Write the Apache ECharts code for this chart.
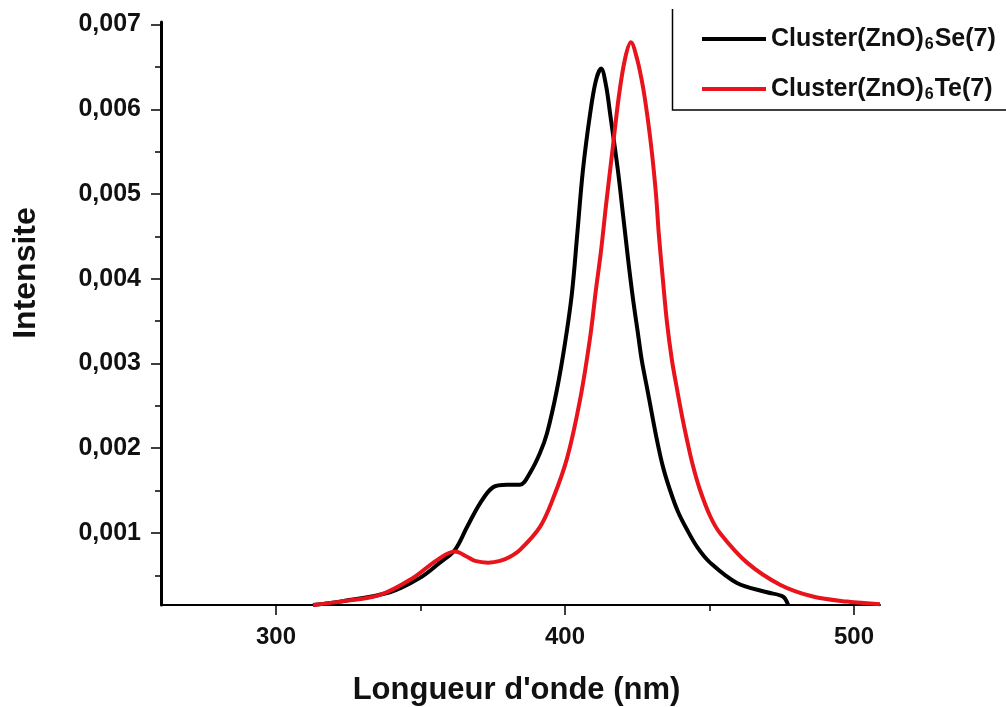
<!DOCTYPE html>
<html>
<head>
<meta charset="utf-8">
<script src="https://cdn.jsdelivr.net/npm/echarts@6/dist/echarts.min.js"></script>
<style>
html,body{margin:0;padding:0;background:#fff;}
#chart{width:1006px;height:707px;}
</style>
</head>
<body>
<div id="chart"></div>
<script>
// ---- Data ----
const seName = 'Cluster(ZnO)6Se(7)';
const teName = 'Cluster(ZnO)6Te(7)';
const seWavelength = [312.8, 322.1, 339.4, 349.8, 356.7, 361.9, 366.1, 370.6, 375.1, 379.9, 384.4, 387.9, 391.3, 393.8, 397.2, 400.0, 402.4, 404.2, 406.2, 408.7, 410.7, 412.5, 414.2, 415.6, 418.3, 420.1, 421.8, 423.5, 425.3, 426.6, 428.4, 430.1, 431.8, 433.9, 436.3, 439.1, 442.2, 446.0, 450.2, 459.5, 469.9, 475.4, 477.2];
const seIntensity  = [0.00015, 0.00019, 0.00030, 0.00047, 0.00065, 0.00080, 0.00107, 0.00135, 0.00154, 0.00157, 0.00157, 0.00171, 0.00194, 0.00218, 0.00269, 0.00324, 0.00383, 0.00451, 0.00528, 0.00595, 0.00634, 0.00648, 0.00628, 0.00595, 0.00528, 0.00475, 0.00424, 0.00377, 0.00334, 0.00303, 0.00271, 0.00240, 0.00210, 0.00178, 0.00151, 0.00125, 0.00104, 0.00082, 0.00065, 0.00041, 0.00030, 0.00025, 0.00015];
const teWavelength = [312.8, 322.1, 336.0, 347.4, 355.7, 361.9, 366.1, 368.9, 373.4, 377.5, 381.0, 384.4, 391.3, 395.8, 400.7, 405.2, 408.7, 410.7, 412.5, 414.2, 416.3, 418.7, 420.8, 422.8, 424.9, 427.0, 428.7, 430.1, 431.5, 432.5, 433.9, 435.3, 437.0, 438.8, 440.5, 442.2, 444.3, 446.7, 450.2, 453.6, 463.0, 474.4, 485.8, 497.6, 509.0];
const teIntensity  = [0.00015, 0.00019, 0.00027, 0.00047, 0.00068, 0.00078, 0.00072, 0.00067, 0.00065, 0.00067, 0.00072, 0.00080, 0.00107, 0.00140, 0.00188, 0.00257, 0.00331, 0.00387, 0.00434, 0.00487, 0.00548, 0.00617, 0.00660, 0.00679, 0.00660, 0.00626, 0.00587, 0.00548, 0.00499, 0.00451, 0.00398, 0.00348, 0.00304, 0.00269, 0.00238, 0.00210, 0.00179, 0.00151, 0.00120, 0.00100, 0.00065, 0.00039, 0.00025, 0.00019, 0.00016];
const xMajorTicks = [300, 400, 500];
const xMinorTicks = [350, 450];
const yMajorTicks = [0.001, 0.002, 0.003, 0.004, 0.005, 0.006, 0.007];
const yMinorTicks = [0.0005, 0.0015, 0.0025, 0.0035, 0.0045, 0.0055, 0.0065];

const xMin = 260.2, xMax = 509, yMin = 0.00015, yMax = 0.00703;

const zip = (a, b) => a.map((v, i) => [v, b[i]]);
const FONT = 'Liberation Sans';

const chart = echarts.init(document.getElementById('chart'), null, {renderer: 'canvas'});

const baseX = {
  type: 'value', min: xMin, max: xMax, position: 'bottom',
  splitLine: {show: false}
};
const baseY = {
  type: 'value', min: yMin, max: yMax, position: 'left',
  splitLine: {show: false}
};

chart.setOption({
  animation: false,
  backgroundColor: '#ffffff',
  grid: {left: 161, right: 126, top: 22, bottom: 102, containLabel: false, outerBoundsMode: 'none'},
  legend: {
    orient: 'vertical',
    left: 697, top: 18,
    itemWidth: 64, itemHeight: 4, itemGap: 20,
    icon: 'rect',
    data: [seName, teName],
    formatter: function (name) {
      return name === seName ? 'Cluster(ZnO){s|6}Se(7)' : 'Cluster(ZnO){s|6}Te(7)';
    },
    textStyle: {
      fontFamily: FONT, fontSize: 25, fontWeight: 'bold', color: '#111', lineHeight: 28,
      rich: {
        s: {fontFamily: FONT, fontSize: 16, fontWeight: 'bold', color: '#111', lineHeight: 28, verticalAlign: 'bottom', padding: [14, 1, 0, 1]}
      }
    }
  },
  xAxis: [
    Object.assign({}, baseX, {
      name: "Longueur d'onde (nm)", nameLocation: 'middle', nameGap: 70,
      nameTextStyle: {fontFamily: FONT, fontSize: 31, fontWeight: 'bold', color: '#111', padding: [0, 8, 0, 0]},
      axisLine: {show: true, lineStyle: {color: '#000', width: 2}},
      axisTick: {show: true, inside: false, length: 10, lineStyle: {color: '#000', width: 1.5}, customValues: xMajorTicks},
      axisLabel: {show: true, margin: 20, fontFamily: FONT, fontSize: 24, fontWeight: 'bold', color: '#111', customValues: xMajorTicks,
        formatter: v => String(Math.round(v))}
    }),
    Object.assign({}, baseX, {
      axisLine: {show: false},
      axisTick: {show: true, inside: false, length: 6, lineStyle: {color: '#000', width: 1.5}, customValues: xMinorTicks},
      axisLabel: {show: false}
    })
  ],
  yAxis: [
    Object.assign({}, baseY, {
      axisLine: {show: true, lineStyle: {color: '#000', width: 3}},
      axisTick: {show: true, inside: false, length: 10, lineStyle: {color: '#000', width: 1.5}, customValues: yMajorTicks},
      axisLabel: {show: true, margin: 20, fontFamily: FONT, fontSize: 25, fontWeight: 'bold', color: '#111', customValues: yMajorTicks,
        formatter: v => v.toFixed(3).replace('.', ',')}
    }),
    Object.assign({}, baseY, {
      axisLine: {show: false},
      axisTick: {show: true, inside: false, length: 6, lineStyle: {color: '#000', width: 1.5}, customValues: yMinorTicks},
      axisLabel: {show: false}
    })
  ],
  graphic: [
    {
      type: 'text', x: 26, y: 273, rotation: Math.PI / 2,
      style: {text: 'Intensite', font: 'bold 32px "Liberation Sans"', fill: '#111', align: 'center', verticalAlign: 'middle'}
    },
    {
      type: 'polyline', silent: true,
      shape: {points: [[672.5, 9], [672.5, 110], [1010, 110]]},
      style: {stroke: '#000', lineWidth: 1.5, fill: null}
    }
  ],
  series: [
    {
      name: seName, type: 'line', xAxisIndex: 0, yAxisIndex: 0,
      data: zip(seWavelength, seIntensity),
      showSymbol: false, symbol: 'none', smooth: 0.35,
      lineStyle: {color: '#000', width: 4}, itemStyle: {color: '#000'}
    },
    {
      name: teName, type: 'line', xAxisIndex: 0, yAxisIndex: 0,
      data: zip(teWavelength, teIntensity),
      showSymbol: false, symbol: 'none', smooth: 0.35,
      lineStyle: {color: '#e8131b', width: 4}, itemStyle: {color: '#e8131b'}
    }
  ]
});
</script>
</body>
</html>
